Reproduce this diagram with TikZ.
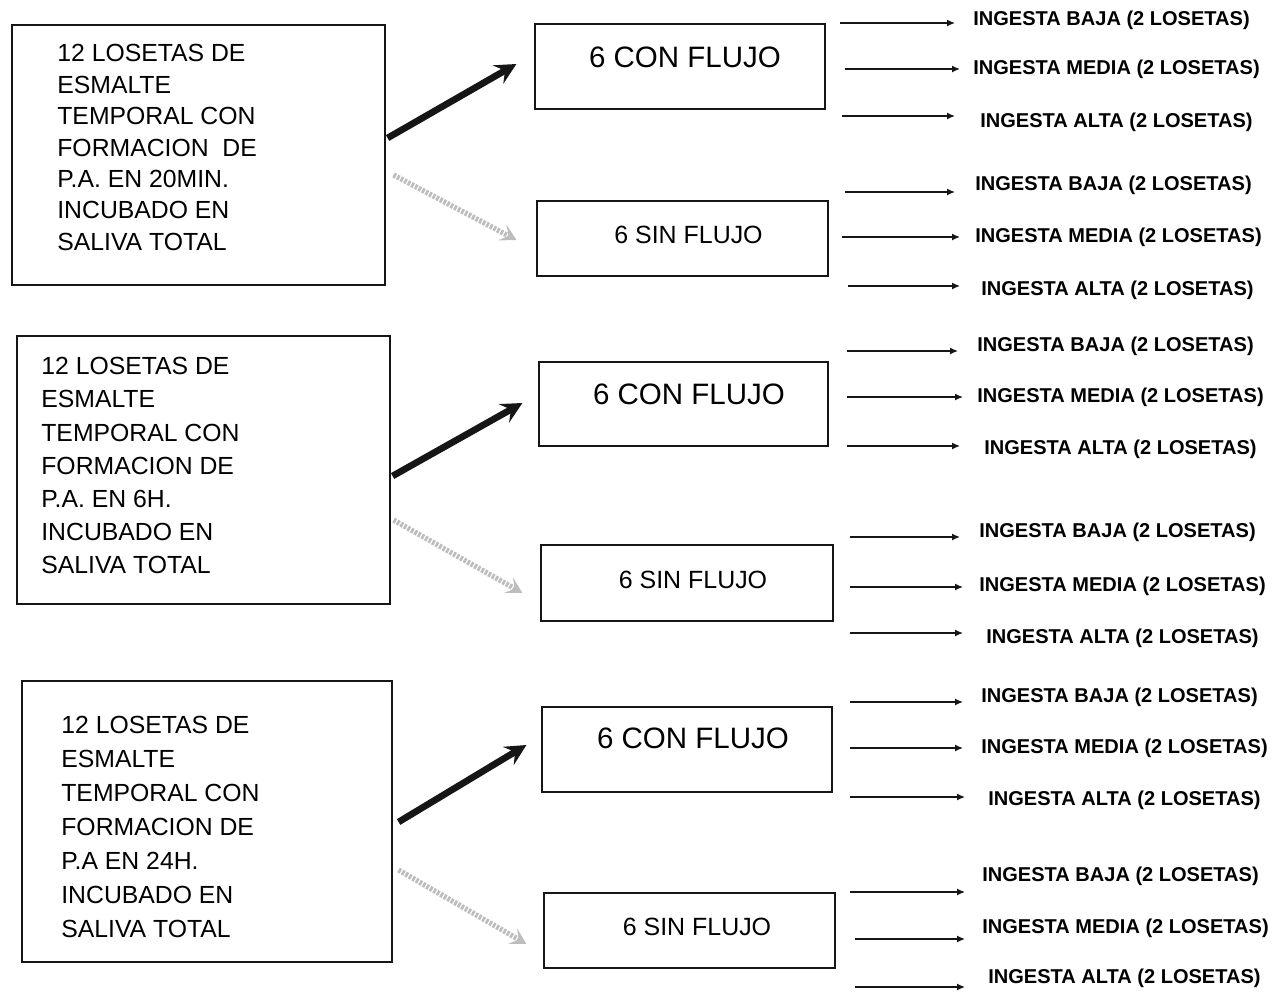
\documentclass[tikz,border=0pt]{standalone}
\usepackage{fontspec}
\setmainfont{Liberation Sans}
\usepackage{tikz}
\usetikzlibrary{
  arrows.meta,
  positioning,
  calc,
}
\definecolor{inkBlack}{HTML}{161616}
\definecolor{fadeGray}{HTML}{BDBDBD}

\tikzset{
  bigbox/.style={draw=inkBlack, line width=0.7pt, inner sep=0pt, minimum width=7.46cm},
  flowbox/.style={draw=inkBlack, line width=0.7pt, inner sep=0pt, minimum width=5.8cm},
  bigtxt/.style={anchor=north west, inner sep=0pt, align=left},
  contxt/.style={inner sep=0pt, font=\fontsize{16.8}{19}\selectfont},
  sintxt/.style={inner sep=0pt, font=\fontsize{14.2}{17}\selectfont},
  ingesta/.style={anchor=west, inner sep=0pt, font=\bfseries\fontsize{11.4}{13}\selectfont},
  fuerte/.style={draw=inkBlack, line width=3.8pt, -{Stealth[length=12pt,width=12pt,inset=4.5pt]}},
  tenue/.style={draw=fadeGray, line width=3pt, dash pattern=on 1.5pt off 0.8pt,
    -{Stealth[length=9pt,width=10pt,inset=4pt]}},
  ingarr/.style={draw=inkBlack, line width=0.8pt, -{Latex[length=4.5pt,width=4pt]}},
}

\begin{document}
\begin{tikzpicture}[x=0.02cm, y=-0.02cm]
  \useasboundingbox (0,0) rectangle (1276,994);

  % left boxes
  \node[bigbox, minimum height=5.2cm] (b1) at (198.5,155) {};
  \node[bigbox, minimum height=5.36cm] (b2) at (203.5,470) {};
  \node[bigbox, minimum width=7.4cm, minimum height=5.62cm] (b3) at (207,821.5) {};
  \node[bigtxt, font=\fontsize{14.1}{17.9}\selectfont] (t1) at (57,44)
    {12 LOSETAS DE\\ESMALTE\\TEMPORAL CON\\FORMACION \ DE\\P.A. EN 20MIN.\\INCUBADO EN\\SALIVA TOTAL};
  \node[bigtxt, font=\fontsize{14.1}{18.9}\selectfont] (t2) at (41,357)
    {12 LOSETAS DE\\ESMALTE\\TEMPORAL CON\\FORMACION DE\\P.A. EN 6H.\\INCUBADO EN\\SALIVA TOTAL};
  \node[bigtxt, font=\fontsize{14.1}{19.3}\selectfont] (t3) at (61,716)
    {12 LOSETAS DE\\ESMALTE\\TEMPORAL CON\\FORMACION DE\\P.A EN 24H.\\INCUBADO EN\\SALIVA TOTAL};

  % con / sin flujo
  \node[flowbox, minimum height=1.7cm] (c1) at (680,66.5) {};
  \node[flowbox, minimum width=5.82cm, minimum height=1.5cm] (s1) at (682.5,238.5) {};
  \node[flowbox, minimum width=5.78cm, minimum height=1.68cm] (c2) at (683.5,404) {};
  \node[flowbox, minimum width=5.84cm, minimum height=1.52cm] (s2) at (687,583) {};
  \node[flowbox, minimum height=1.7cm] (c3) at (687,749.5) {};
  \node[flowbox, minimum width=5.82cm, minimum height=1.5cm] (s3) at (689.5,930.5) {};
  \node[contxt] (c1t) at (685,57) {6 CON FLUJO};
  \node[sintxt] (s1t) at (688.5,235) {6 SIN FLUJO};
  \node[contxt] (c2t) at (689,394) {6 CON FLUJO};
  \node[sintxt] (s2t) at (693,580) {6 SIN FLUJO};
  \node[contxt] (c3t) at (693,738) {6 CON FLUJO};
  \node[sintxt] (s3t) at (697,927) {6 SIN FLUJO};

  % big arrows
  \draw[fuerte] ($(b1.east)+(2,-17)$) -- ($(c1.west)+(-18,-2.5)$);
  \draw[tenue] ($(b1.east)+(8,20)$) -- ($(s1.west)+(-20,1.5)$);
  \draw[fuerte] ($(b2.east)+(2,6)$) -- ($(c2.west)+(-16,-1)$);
  \draw[tenue] ($(b2.east)+(3,50)$) -- ($(s2.west)+(-18,10)$);
  \draw[fuerte] ($(b3.east)+(6,0.5)$) -- ($(c3.west)+(-15,-4.5)$);
  \draw[tenue] ($(b3.east)+(6,48.5)$) -- ($(s3.west)+(-17,13.5)$);

  % ingesta arrows and labels
  \foreach \i/\xa/\xb/\y/\xl/\yl/\t in {
      1/840/955/23/973/20/BAJA, 2/845/960/69/973/69/MEDIA, 3/842/955/116/980/122/ALTA,
      4/845/955/192/975/185/BAJA, 5/842/960/237/975/237/MEDIA, 6/848/960/286/981/290/ALTA,
      7/847/958/351/977/346/BAJA, 8/847/963/397/977/397/MEDIA, 9/847/960/446/984/449/ALTA,
      10/850/960/537/979/532/BAJA, 11/850/963/587/979/586/MEDIA, 12/850/963/633/986/638/ALTA,
      13/850/963/702/981/697/BAJA, 14/850/963/748/981/748/MEDIA, 15/850/965/797/988/800/ALTA,
      16/850/965/892/982/876/BAJA, 17/855/965/939/982/928/MEDIA, 18/855/965/987/988/978/ALTA} {
    \coordinate (p\i) at (\xa,\y);
    \coordinate (q\i) at (\xb,\y);
    \node[ingesta] (l\i) at (\xl,\yl) {INGESTA \t\ (2 LOSETAS)};
    \draw[ingarr] (p\i) -- (q\i);
  }
\end{tikzpicture}
\end{document}
